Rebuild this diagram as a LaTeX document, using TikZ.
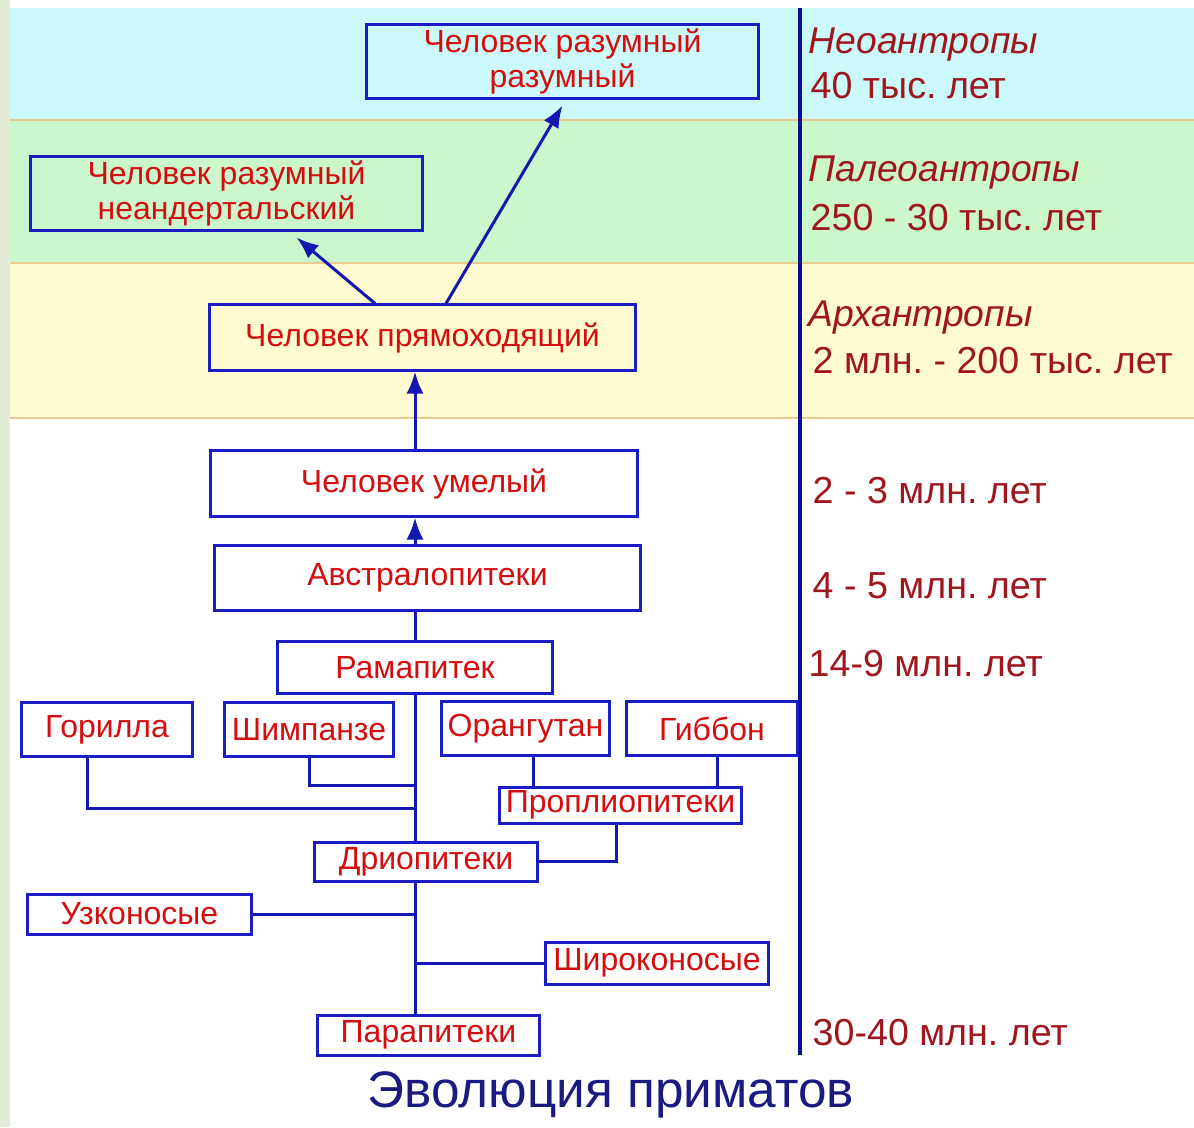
\documentclass[tikz,border=0pt]{standalone}
\usepackage{fontspec}
\setmainfont{Liberation Sans}
\usetikzlibrary{positioning,calc,arrows.meta,backgrounds}
\definecolor{boxblue}{RGB}{28,28,196}
\definecolor{lineblue}{RGB}{22,22,176}
\definecolor{axisblue}{RGB}{12,12,150}
\definecolor{boxred}{RGB}{212,14,14}
\definecolor{agered}{RGB}{160,22,30}
\definecolor{titleblue}{RGB}{26,26,130}
\definecolor{neocyan}{RGB}{204,250,250}
\definecolor{paleogreen}{RGB}{204,246,204}
\definecolor{archyellow}{RGB}{255,251,208}
\definecolor{bandline}{RGB}{232,202,140}
\definecolor{sidegreen}{RGB}{226,236,214}
\frenchspacing

\begin{document}
\begin{tikzpicture}[x=0.01cm,y=-0.01cm]
  \tikzstyle{gn}=[draw=boxblue,line width=.03cm,inner sep=0pt,text=boxred,align=center,font=\fontsize{9.1}{10.2}\selectfont]
  \tikzstyle{ed}=[draw=lineblue,line width=.03cm]
  \tikzstyle{arr}=[ed,-{Latex[length=2.2mm,width=1.7mm]}]
  \tikzstyle{age}=[anchor=west,inner sep=0pt,text=agered,font=\fontsize{10.7}{13}\selectfont]
  \tikzstyle{era}=[age,font=\fontsize{10.6}{13}\selectfont\itshape]
  \tikzstyle{sep}=[draw=bandline,line width=.02cm]
  \useasboundingbox (0,0) rectangle (1194,1127);
  % background bands
  \fill [white] (0,0) rectangle (1194,1127);
  \fill [sidegreen] (0,0) rectangle (10,1127);
  \fill [neocyan] (10,8) rectangle (1194,120);
  \fill [paleogreen] (10,120) rectangle (1194,263);
  \fill [archyellow] (10,263) rectangle (1194,418);
  \draw [sep] (10,120) -- (1194,120);
  \draw [sep] (10,263) -- (1194,263);
  \draw [sep] (10,418) -- (1194,418);
  % time axis
  \coordinate (axtop) at (800,8);
  \coordinate (axbot) at (800,1055);
  \draw [draw=axisblue,line width=.035cm] (axtop) -- (axbot);
  % boxes
  \node [gn,minimum width=3.91cm,minimum height=.73cm] (hss) at (562.5,61.5) {Человек разумный\\разумный};
  \node [gn,minimum width=3.91cm,minimum height=.73cm] (nea) at (226.5,193.5) {Человек разумный\\неандертальский};
  \node [gn,minimum width=4.25cm,minimum height=.65cm] (erect) at (422.5,337.5) {Человек прямоходящий};
  \node [gn,minimum width=4.26cm,minimum height=.65cm] (habil) at (424,483.5) {Человек умелый};
  \node [gn,minimum width=4.25cm,minimum height=.64cm] (austr) at (427.5,578) {Австралопитеки};
  \node [gn,minimum width=2.74cm,minimum height=.51cm] (rama) at (415,667.5) {Рамапитек};
  \node [gn,minimum width=1.70cm,minimum height=.53cm] (gor) at (107,729.5) {Горилла};
  \node [gn,minimum width=1.68cm,minimum height=.53cm] (chimp) at (309,729.5) {Шимпанзе};
  \node [gn,minimum width=1.67cm,minimum height=.53cm] (orang) at (525.5,728.5) {Орангутан};
  \node [gn,minimum width=1.70cm,minimum height=.53cm] (gib) at (712,728.5) {Гиббон};
  \node [gn,minimum width=2.41cm,minimum height=.36cm] (propl) at (620.5,805) {Проплиопитеки};
  \node [gn,minimum width=2.22cm,minimum height=.39cm] (drio) at (426,861.5) {Дриопитеки};
  \node [gn,minimum width=2.23cm,minimum height=.40cm] (uzk) at (139.5,914) {Узконосые};
  \node [gn,minimum width=2.22cm,minimum height=.42cm] (shir) at (657,963) {Широконосые};
  \node [gn,minimum width=2.21cm,minimum height=.40cm] (para) at (428.5,1035) {Парапитеки};
  % ages
  \node [era] (neo) at (808,45) {Неоантропы};
  \node [age] (neoT) at (810,86) {40 тыс. лет};
  \node [era] (paleo) at (808,173) {Палеоантропы};
  \node [age] (paleoT) at (810,218) {250 - 30 тыс. лет};
  \node [era] (arch) at (808,318) {Архантропы};
  \node [age] (archT) at (812,361) {2 млн. - 200 тыс. лет};
  \node [age] (habilT) at (812,491) {2 - 3 млн. лет};
  \node [age] (austrT) at (812,586) {4 - 5 млн. лет};
  \node [age] (ramaT) at (808,664) {14-9 млн. лет};
  \node [age] (paraT) at (812,1033) {30-40 млн. лет};
  \node [text=titleblue,font=\fontsize{14.6}{17}\selectfont] (title) at (611,1095) {Эволюция приматов};
  % trunk
  \coordinate (j1) at (416,785);
  \coordinate (j2) at (416,808);
  \draw [ed] (rama.north) -- (rama.north |- austr.south);
  \draw [ed] (rama.south) -- (rama.south |- drio.north);
  \draw [ed] (rama.south |- drio.south) -- (rama.south |- para.north);
  \draw [ed] (chimp.south) |- (j1);
  \draw [ed] ([xshift=-.19cm]gor.south) |- (j2);
  \draw [ed] ([xshift=.08cm]orang.south) -- ([xshift=.08cm]orang.south |- propl.north);
  \draw [ed] ([xshift=.05cm]gib.south) -- ([xshift=.05cm]gib.south |- propl.north);
  \draw [ed] ([xshift=-.045cm]propl.south) |- (drio.east);
  \draw [ed] (uzk.east) -- (uzk.east -| rama.south);
  \draw [ed] (shir.west) -- (shir.west -| rama.south);
  % arrows
  \draw [arr] (austr.north -| rama) -- (habil.south -| rama);
  \draw [arr] (habil.north -| rama) -- (erect.south -| rama);
  \draw [arr] ([xshift=-.475cm]erect.north) -- ([xshift=.7cm,yshift=-.06cm]nea.south);
  \draw [arr] ([xshift=.235cm]erect.north) -- ([yshift=-.06cm]hss.south);
\end{tikzpicture}
\end{document}
